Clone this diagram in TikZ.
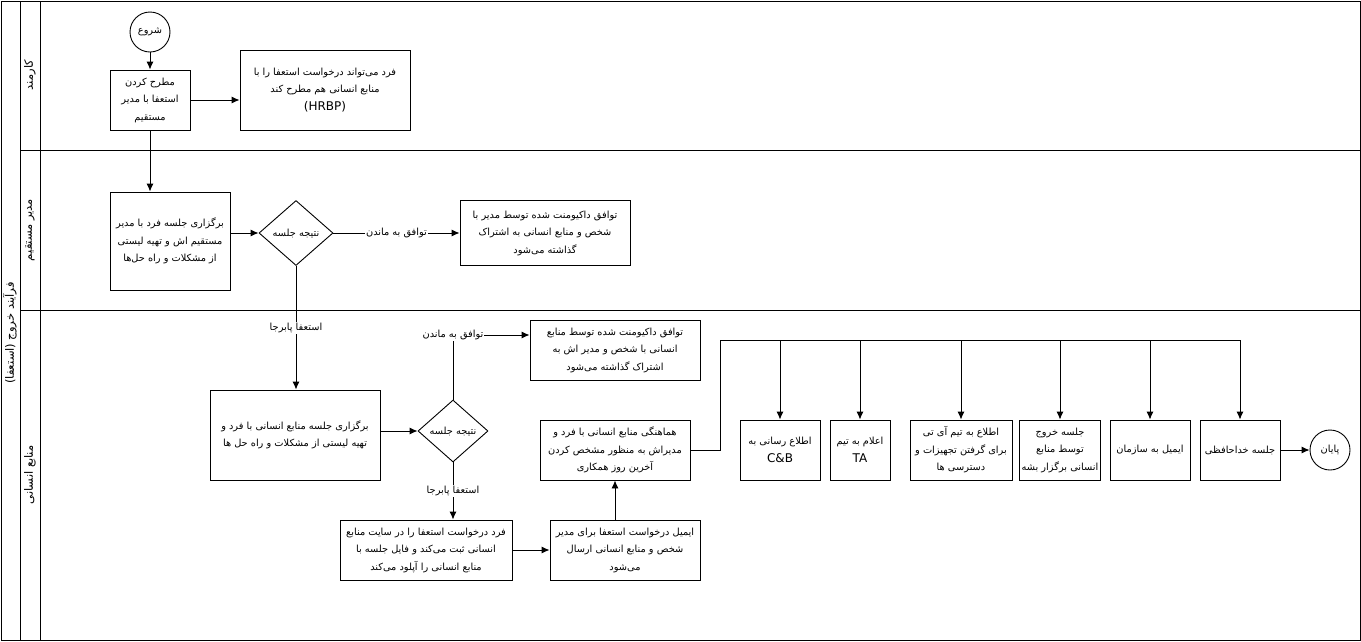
\documentclass[tikz,border=0pt]{standalone}
\usepackage{fontspec}
\setmainfont{DejaVu Sans}
\newfontfamily\fafont[Script=Arabic]{DejaVu Sans}
\TeXXeTstate=1
\usetikzlibrary{arrows.meta,shapes.geometric}
\newcommand{\fatxt}[1]{{\fafont\beginR #1\endR}}
\newcommand{\latin}[1]{{\fontsize{12}{15}\selectfont #1}}

\begin{document}
\begin{tikzpicture}[x=1pt,y=-1pt,
        font=\fontsize{9.8}{17.5}\selectfont, line width=0.9pt,
        task/.style={draw, rectangle, align=center, inner sep=2pt},
        gate/.style={draw, diamond, inner sep=0pt, minimum width=74pt, minimum height=65pt},
        event/.style={draw, circle, minimum size=40pt, inner sep=0pt},
        flow/.style={-{Latex[length=8pt,width=7pt]}},
        tag/.style={fill=white, inner sep=1pt},
        lane/.style={rotate=90, font=\fontsize{11.5}{14}\selectfont}]
        \useasboundingbox (0,0) rectangle (1361,641);

        % pool and lanes
        \draw (1,1) rectangle (1360,640);
        \draw (20,1) -- (20,640);
        \draw (40,1) -- (40,640);
        \draw (20,150) -- (1360,150);
        \draw (20,310) -- (1360,310);
        \node[lane] (pool) at (10,333) {\fatxt{فرآیند خروج (استعفا)}};
        \node[lane] (lane1) at (30,75) {\fatxt{کارمند}};
        \node[lane] (lane2) at (30,230) {\fatxt{مدیر مستقیم}};
        \node[lane] (lane3) at (30,475) {\fatxt{منابع انسانی}};

        % employee
        \node[event] (start) at (150,32) {\fatxt{شروع}};
        \node[task, minimum width=80pt, minimum height=60pt] (b1) at (150,100)
            {\fatxt{مطرح کردن}\\\fatxt{استعفا با مدیر}\\\fatxt{مستقیم}};
        \node[task, minimum width=170pt, minimum height=80pt] (b2) at (325,90)
            {\fatxt{فرد می‌تواند درخواست استعفا را با}\\\fatxt{منابع انسانی هم مطرح کند}\\\latin{(HRBP)}};

        % line manager
        \node[task, minimum width=120pt, minimum height=98pt] (b3) at (170,241)
            {\fatxt{برگزاری جلسه فرد با مدیر}\\\fatxt{مستقیم اش و تهیه لیستی}\\\fatxt{از مشکلات و راه حل‌ها}};
        \node[gate] (g1) at (296,233) {\fatxt{نتیجه جلسه}};
        \node[task, minimum width=170pt, minimum height=65pt] (b4) at (545,233)
            {\fatxt{توافق داکیومنت شده توسط مدیر با}\\\fatxt{شخص و منابع انسانی به اشتراک}\\\fatxt{گذاشته می‌شود}};

        % HR
        \node[task, minimum width=170pt, minimum height=90pt] (b5) at (295,435)
            {\fatxt{برگزاری جلسه منابع انسانی با فرد و}\\\fatxt{تهیه لیستی از مشکلات و راه حل ها}};
        \node[gate, minimum width=70pt, minimum height=62pt] (g2) at (453,431) {\fatxt{نتیجه جلسه}};
        \node[task, minimum width=170pt, minimum height=60pt] (b6) at (615,350)
            {\fatxt{توافق داکیومنت شده توسط منابع}\\\fatxt{انسانی  با شخص و مدیر اش  به}\\\fatxt{اشتراک گذاشته می‌شود}};
        \node[task, minimum width=172pt, minimum height=60pt] (b7) at (426,550)
            {\fatxt{فرد درخواست استعفا را در سایت منابع}\\\fatxt{انسانی ثبت می‌کند و فایل جلسه با}\\\fatxt{منابع انسانی را آپلود می‌کند}};
        \node[task, minimum width=150pt, minimum height=60pt] (b8) at (625,550)
            {\fatxt{ایمیل درخواست استعفا برای مدیر}\\\fatxt{شخص و منابع انسانی ارسال}\\\fatxt{می‌شود}};
        \node[task, minimum width=150pt, minimum height=60pt] (b9) at (615,450)
            {\fatxt{هماهنگی منابع انسانی با فرد و}\\\fatxt{مدیراش به منظور مشخص کردن}\\\fatxt{آخرین روز همکاری}};
        \node[task, minimum width=80pt, minimum height=60pt] (b10) at (780,450)
            {\fatxt{اطلاع رسانی به}\\\latin{C\&B}};
        \node[task, minimum width=60pt, minimum height=60pt] (b11) at (860,450)
            {\fatxt{اعلام به تیم}\\\latin{TA}};
        \node[task, minimum width=102pt, minimum height=60pt] (b12) at (961,450)
            {\fatxt{اطلاع به تیم آی تی}\\\fatxt{برای گرفتن تجهیزات و}\\\fatxt{دسترسی ها}};
        \node[task, minimum width=80pt, minimum height=60pt] (b13) at (1060,450)
            {\fatxt{جلسه خروج}\\\fatxt{توسط منابع}\\\fatxt{انسانی برگزار بشه}};
        \node[task, minimum width=80pt, minimum height=60pt] (b14) at (1150,450)
            {\fatxt{ایمیل به سازمان}};
        \node[task, minimum width=80pt, minimum height=60pt] (b15) at (1240,450)
            {\fatxt{جلسه خداحافظی}};
        \node[event] (end) at (1330,450) {\fatxt{پایان}};
        \coordinate (bus) at (720,340);

        % flows
        \draw[flow] (start) -- (b1);
        \draw[flow] (b1.east) -- (b1.east -| b2.west);
        \draw[flow] (b1.south) -- (b1.south |- b3.north);
        \draw[flow] (b3.east |- g1) -- (g1);
        \draw[flow] (g1) -- node[tag] {\fatxt{توافق به ماندن}} (b4);
        \draw[flow] (g1.south) -- node[tag] {\fatxt{استعفا پابرجا}} (g1.south |- b5.north);
        \draw[flow] (b5.east |- g2) -- (g2);
        \draw[flow] (g2.north) |- node[tag] {\fatxt{توافق به ماندن}} ([yshift=15pt]b6.west);
        \draw[flow] (g2.south) -- node[tag] {\fatxt{استعفا پابرجا}} (g2.south |- b7.north);
        \draw[flow] (b7) -- (b8);
        \draw[flow] (b9.south |- b8.north) -- (b9.south);
        \foreach \t in {b10,b11,b12,b13,b14,b15}
            \draw[flow] (b9.east) -| (bus) -| (\t.north);
        \draw[flow] (b15) -- (end);
    \end{tikzpicture}
\end{document}
